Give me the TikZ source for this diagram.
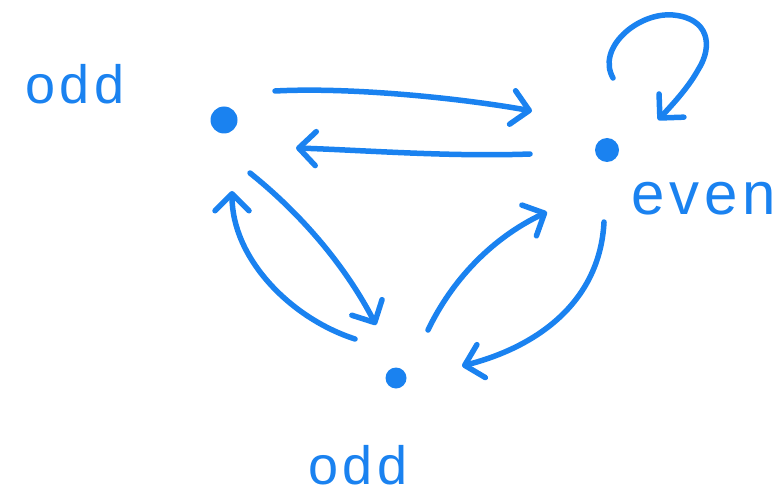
\documentclass[tikz,border=0pt]{standalone}
\usepackage{fontspec}
\newfontfamily\hand{Liberation Sans}[LetterSpace=8]
\usetikzlibrary{arrows.meta}
\definecolor{ink}{HTML}{1A82F0}
\begin{document}
\begin{tikzpicture}[x=1pt,y=-1pt,
  pen/.style={draw=ink, line width=5.5pt, line cap=round, line join=round},
  arr/.style={pen, -{Straight Barb[length=17pt,width=34pt,round]}},
  dot/.style={circle, fill=ink, inner sep=0pt, minimum size=#1},
  lbl/.style={text=ink, font=\hand\fontsize{54}{54}\selectfont, inner sep=0pt, anchor=base}]
\useasboundingbox (0,0) rectangle (775,497);

% states
\node[dot=27pt] (A) at (224,120) {};
\node[dot=24pt] (B) at (607,150) {};
\node[dot=21pt] (C) at (396,378) {};

% labels
\node[lbl] (lA) at (75,104) {odd};
\node[lbl, font=\hand\fontsize{60}{60}\selectfont] (lB) at (704,214) {even};
\node[lbl] (lC) at (358,484) {odd};

% connector end points
\coordinate (ab0) at (275,91);   \coordinate (ab1) at (532,111);
\coordinate (ba0) at (530,154);  \coordinate (ba1) at (296,148);
\coordinate (ac0) at (250,173);  \coordinate (ac1) at (376,325);
\coordinate (ca0) at (355,339);  \coordinate (ca1) at (232,191);
\coordinate (cb0) at (428,330);  \coordinate (cb1) at (547,212);
\coordinate (bc0) at (604,222);  \coordinate (bc1) at (462,366);
\coordinate (bb0) at (613,78);   \coordinate (bb1) at (658,120);

% transitions
\draw[arr] (ab0) .. controls (350,87) and (460,98) .. (ab1);
\draw[arr] (ba0) .. controls (450,157) and (360,150) .. (ba1);
\draw[arr] (ac0) .. controls (300,213) and (345,265) .. (ac1);
\draw[arr] (ca0) .. controls (290,318) and (232,258) .. (ca1);
\draw[arr] (cb0) .. controls (452,280) and (492,238) .. (cb1);
\draw[arr] (bc0) .. controls (600,300) and (540,346) .. (bc1);
\draw[arr] (bb0) .. controls (596,48) and (638,12) .. (673,15)
                 .. controls (708,18) and (714,45) .. (698,70)
                 .. controls (688,88) and (672,105) .. (bb1);
\end{tikzpicture}
\end{document}
